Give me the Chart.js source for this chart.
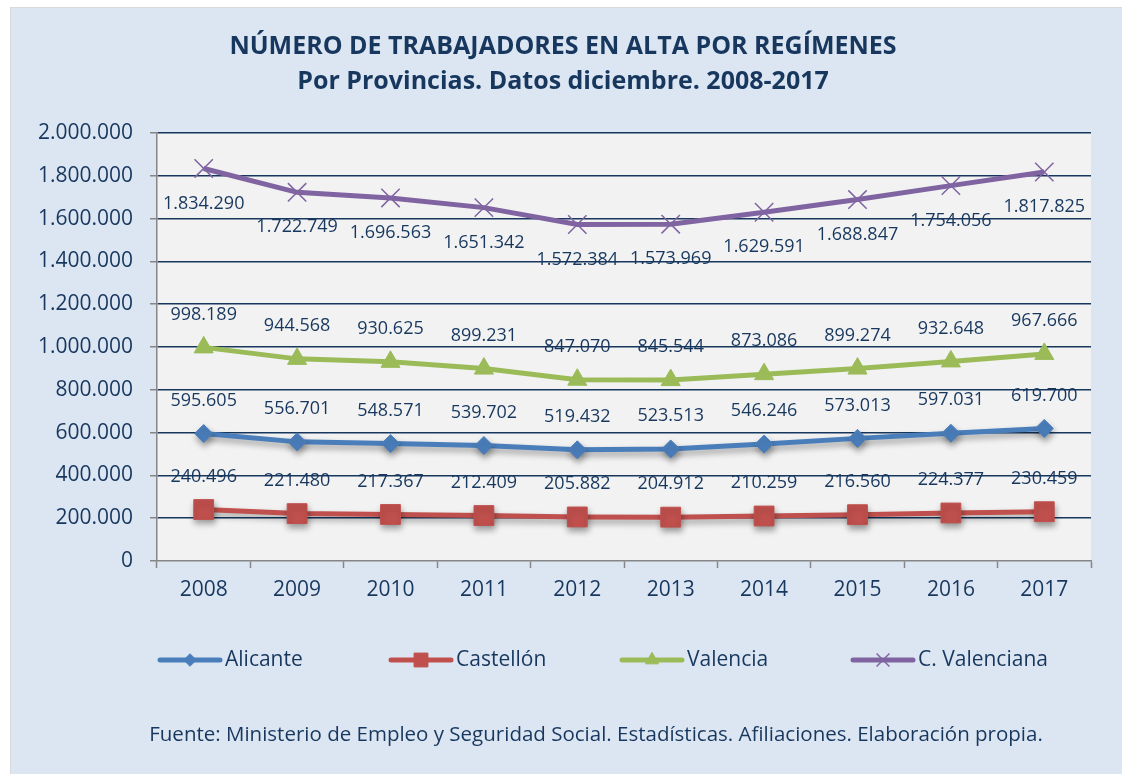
<!DOCTYPE html>
<html>
<head>
<meta charset="utf-8">
<script src="https://cdn.jsdelivr.net/npm/chart.js@4.4.1/dist/chart.umd.min.js"></script>
<style>
  html, body { margin: 0; padding: 0; background: #fff; }
  #panel {
    position: absolute; left: 10px; top: 7px; width: 1112px; height: 767px;
    background: #dce6f2; border-top: 1px solid #d9d9d9; border-left: 1px solid #d9d9d9;
    box-sizing: border-box;
  }
  canvas { display: block; }
</style>
</head>
<body>
<div id="panel"><canvas id="myChart" width="1111" height="766"></canvas></div>
<script>
// datos (diciembre de cada año)
const years = ['2008', '2009', '2010', '2011', '2012', '2013', '2014', '2015', '2016', '2017'];
const alicante = [595605, 556701, 548571, 539702, 519432, 523513, 546246, 573013, 597031, 619700];
const castellon = [240496, 221480, 217367, 212409, 205882, 204912, 210259, 216560, 224377, 230459];
const valencia = [998189, 944568, 930625, 899231, 847070, 845544, 873086, 899274, 932648, 967666];
const cValenciana = [1834290, 1722749, 1696563, 1651342, 1572384, 1573969, 1629591, 1688847, 1754056, 1817825];
const yMax = 2000000;
const yStep = 200000;

const navy = '#17375e';
const axisGray = '#868686';

// 1234567 -> 1.234.567
function fmt(v) {
  return String(v).replace(/\B(?=(\d{3})+(?!\d))/g, '.');
}

Chart.defaults.font.family = '"Open Sans", sans-serif';
Chart.defaults.color = navy;

const plotBg = {
  id: 'plotBg',
  beforeDraw(chart) {
    const a = chart.chartArea, ctx = chart.ctx;
    ctx.save();
    ctx.fillStyle = '#f2f2f2';
    ctx.fillRect(a.left, a.top, a.right - a.left, a.bottom - a.top);
    ctx.restore();
  }
};

// sombra bajo las líneas de Alicante y Castellón
const lineShadow = {
  id: 'lineShadow',
  beforeDatasetDraw(chart, args) {
    const ctx = chart.ctx;
    ctx.save();
    if (chart.data.datasets[args.index].shadow) {
      ctx.shadowColor = 'rgba(0,0,0,0.35)';
      ctx.shadowBlur = 6;
      ctx.shadowOffsetX = 1;
      ctx.shadowOffsetY = 4;
    }
  },
  afterDatasetDraw(chart) {
    chart.ctx.restore();
  }
};

const valueLabels = {
  id: 'valueLabels',
  afterDatasetsDraw(chart) {
    const ctx = chart.ctx;
    ctx.save();
    ctx.font = '18px "Open Sans"';
    ctx.fillStyle = navy;
    ctx.textAlign = 'center';
    ctx.textBaseline = 'middle';
    chart.data.datasets.forEach((ds, i) => {
      chart.getDatasetMeta(i).data.forEach((pt, j) => {
        ctx.fillText(fmt(ds.data[j]), pt.x, pt.y + ds.labelOffset);
      });
    });
    ctx.restore();
  }
};

// leyenda estilo Excel: línea con marcador en el centro
const excelLegend = {
  id: 'excelLegend',
  afterDraw(chart) {
    const ctx = chart.ctx;
    const y = 652;
    ctx.save();
    chart.data.datasets.forEach((ds, i) => {
      const x0 = 149 + i * 231;
      ctx.strokeStyle = ds.borderColor;
      ctx.fillStyle = ds.backgroundColor;
      ctx.lineWidth = 5;
      ctx.lineCap = 'round';
      ctx.beginPath();
      ctx.moveTo(x0, y);
      ctx.lineTo(x0 + 60, y);
      ctx.stroke();
      ctx.lineWidth = ds.pointBorderWidth;
      ctx.lineCap = 'butt';
      Chart.helpers.drawPoint(ctx, {
        pointStyle: ds.pointStyle, radius: ds.pointRadius * 0.7,
        borderWidth: ds.pointBorderWidth, rotation: 0
      }, x0 + 30, y);
      ctx.font = '21px "Open Sans"';
      ctx.fillStyle = navy;
      ctx.textAlign = 'left';
      ctx.textBaseline = 'middle';
      ctx.fillText(ds.label, x0 + 65, y);
    });
    ctx.font = '20.5px "Open Sans"';
    ctx.textAlign = 'center';
    ctx.fillText('Fuente: Ministerio de Empleo y Seguridad Social. Estadísticas. Afiliaciones. Elaboración propia.', 585, 727);
    ctx.restore();
  }
};

new Chart(document.getElementById('myChart'), {
  type: 'line',
  data: {
    labels: years,
    datasets: [
      {
        label: 'Alicante', data: alicante,
        borderColor: '#4a7ebb', backgroundColor: '#4a7ebb',
        borderWidth: 5, pointStyle: 'rectRot', pointRadius: 9, pointBorderWidth: 1,
        labelOffset: -33, shadow: true
      },
      {
        label: 'Castellón', data: castellon,
        borderColor: '#c0504d', backgroundColor: '#c0504d',
        borderWidth: 5, pointStyle: 'rect', pointRadius: 14, pointBorderWidth: 1,
        labelOffset: -33, shadow: true
      },
      {
        label: 'Valencia', data: valencia,
        borderColor: '#9bbb59', backgroundColor: '#9bbb59',
        borderWidth: 5, pointStyle: 'triangle', pointRadius: 11, pointBorderWidth: 1,
        labelOffset: -33, shadow: false
      },
      {
        label: 'C. Valenciana', data: cValenciana,
        borderColor: '#8064a2', backgroundColor: '#8064a2',
        borderWidth: 5, pointStyle: 'crossRot', pointRadius: 13, pointBorderWidth: 1.5,
        labelOffset: 35, shadow: false
      }
    ]
  },
  options: {
    responsive: false,
    animation: false,
    layout: { padding: { left: 24, right: 31, top: 0, bottom: 153 } },
    plugins: {
      legend: { display: false },
      tooltip: { enabled: false },
      title: {
        display: true,
        text: ['NÚMERO DE TRABAJADORES EN ALTA POR REGÍMENES', 'Por Provincias. Datos diciembre. 2008-2017'],
        color: navy,
        font: { size: 25, weight: 'bold', lineHeight: 1.4 },
        padding: { top: 21, bottom: 34 }
      }
    },
    scales: {
      x: {
        offset: true,
        grid: { offset: true, drawOnChartArea: false, tickLength: 7, tickColor: axisGray, tickWidth: 1.5 },
        border: { color: axisGray, width: 1.5 },
        ticks: { font: { size: 21 }, color: navy, padding: 9, maxRotation: 0 },
        afterFit(scale) { scale.height = 60; }
      },
      y: {
        min: 0,
        max: yMax,
        grid: {
          color: (c) => c.tick && c.tick.value === 0 ? 'rgba(0,0,0,0)' : navy,
          lineWidth: 1.5,
          tickLength: 7, tickColor: axisGray, tickWidth: 1.5
        },
        border: { color: axisGray, width: 1.5 },
        ticks: { stepSize: yStep, font: { size: 21 }, color: navy, padding: 17, callback: (v) => fmt(v) },
        afterFit(scale) { scale.width = 122; }
      }
    }
  },
  plugins: [plotBg, lineShadow, valueLabels, excelLegend]
});
</script>
</body>
</html>
